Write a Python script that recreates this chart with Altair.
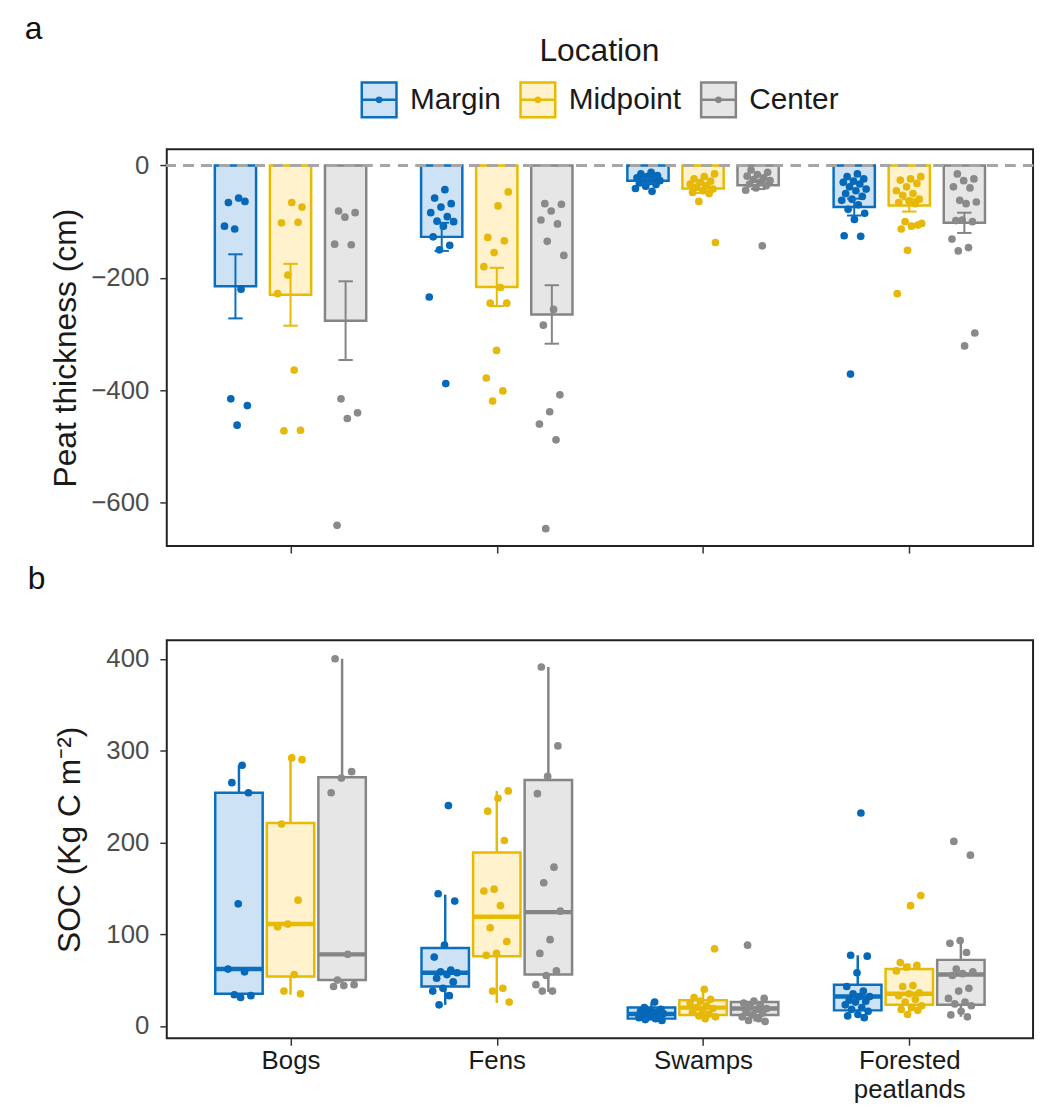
import json
import altair as alt
import pandas as pd

# ---------------- categories & styling ----------------
TYPES = ["Bogs", "Fens", "Swamps", "Forested peatlands"]
TYPE_LABELS = [["Bogs"], ["Fens"], ["Swamps"], ["Forested", "peatlands"]]
LOCATIONS = ["Margin", "Midpoint", "Center"]
DARK = ["#0B6FBE", "#E8BA00", "#858585"]
LIGHT = ["#CDE2F4", "#FFF2CC", "#E6E6E6"]
POINT = ["#0568B8", "#E6B80A", "#8A8A8A"]

# ---------------- panel a: peat thickness (cm) ----------------
THICK_BOGS_MARGIN = [-58, -66, -64, -113, -108, -220, -415, -427, -462]
THICK_BOGS_MIDPOINT = [-74, -66, -102, -101, -195, -228, -364, -472, -471]
THICK_BOGS_CENTER = [-81, -84, -92, -140, -141, -415, -440, -450, -640]
THICK_FENS_MARGIN = [-43, -58, -68, -74, -84, -91, -99, -100, -108, -127, -142, -150, -234, -388]
THICK_FENS_MIDPOINT = [-47, -72, -128, -134, -155, -180, -217, -245, -245, -329, -378, -401, -419]
THICK_FENS_CENTER = [-68, -69, -81, -97, -104, -135, -160, -256, -284, -408, -438, -460, -488, -646]
THICK_SWAMPS_MARGIN = [-12, -15, -18, -20, -22, -24, -25, -27, -29, -31, -34, -37, -41, -46]
THICK_SWAMPS_MIDPOINT = [-15, -20, -24, -28, -30, -33, -36, -39, -42, -45, -48, -50, -64, -137]
THICK_SWAMPS_CENTER = [-8, -12, -16, -19, -22, -25, -27, -30, -33, -36, -40, -44, -143]
THICK_FOREST_MARGIN = [-15, -20, -24, -28, -30, -33, -38, -42, -45, -50, -55, -60, -62, -70,
                       -78, -85, -96, -125, -126, -371]
THICK_FOREST_MIDPOINT = [-20, -24, -26, -32, -38, -45, -50, -53, -60, -63, -66, -68, -100, -103,
                         -108, -113, -106, -151, -228]
THICK_FOREST_CENTER = [-15, -24, -27, -38, -40, -62, -65, -68, -98, -100, -97, -131, -146, -152,
                       -298, -321]

# bar heights (mean) and standard errors, per type, for each location
THICK_MEAN_MARGIN = [-215, -127, -27, -74]
THICK_MEAN_MIDPOINT = [-230, -216, -41, -71]
THICK_MEAN_CENTER = [-276, -265, -35, -102]
THICK_SE_MARGIN = [57, 25, 4, 15]
THICK_SE_MIDPOINT = [55, 34, 8, 11]
THICK_SE_CENTER = [70, 52, 7, 18]

# ---------------- panel b: SOC (Kg C m-2) ----------------
SOC_BOGS_MARGIN = [284, 265, 254, 133, 62, 59, 34, 33, 31]
SOC_BOGS_MIDPOINT = [290, 292, 220, 137, 111, 108, 56, 38, 35]
SOC_BOGS_CENTER = [400, 277, 270, 254, 78, 50, 45, 44, 43]
SOC_FENS_MARGIN = [240, 144, 136, 88, 75, 61, 59, 58, 56, 52, 48, 41, 38, 33, 23]
SOC_FENS_MIDPOINT = [256, 248, 234, 202, 149, 147, 131, 107, 92, 79, 77, 41, 38, 26]
SOC_FENS_CENTER = [391, 305, 272, 253, 173, 156, 125, 94, 79, 60, 55, 45, 38, 38]
SOC_SWAMPS_MARGIN = [26, 20, 18, 17, 16, 15, 14, 13.5, 13, 12, 11, 10, 9, 8, 7, 6]
SOC_SWAMPS_MIDPOINT = [84, 40, 31, 29, 27, 25, 22, 20, 19, 17, 15, 13, 11, 10, 8]
SOC_SWAMPS_CENTER = [88, 30, 27, 25, 23, 21, 19, 18, 16, 14, 12, 10, 8, 6, 5]
SOC_FOREST_MARGIN = [232, 77, 76, 58, 43, 38, 35, 32, 32, 28, 27, 26, 23, 20, 18, 16, 12.5, 11, 9]
SOC_FOREST_MIDPOINT = [142, 131, 69, 66, 64, 60, 44, 43, 36, 35, 33, 29, 26, 22, 20, 18, 17, 12.5]
SOC_FOREST_CENTER = [201, 186, 93, 90, 80, 62, 59, 57, 55, 41, 38, 30, 26, 24, 22, 16, 12, 10]

# box statistics per type: (lower whisker, Q1, median, Q3, upper whisker)
SOC_BOX_MARGIN = [(31, 35, 62, 254, 284), (23, 43, 58, 85, 143), (6, 8, 13, 20, 26), (9, 17, 32, 45, 77)]
SOC_BOX_MIDPOINT = [(34, 54, 111, 221, 292), (25, 76, 119, 189, 256), (8, 12, 20, 28, 40), (12, 23, 35, 62, 68)]
SOC_BOX_CENTER = [(44, 50, 78, 271, 400), (37, 56, 124, 268, 391), (5, 12, 19, 26, 30), (10, 23, 56, 72, 93)]

# ---------------- build tables ----------------
TOP_DODGE = 0.267
BOT_DODGE = 0.25
BAR_HALF = 0.1
BOX_HALF = 0.115
CAP_HALF = 0.035
JIT = 0.065

thick_groups = {
    ("Bogs", "Margin"): THICK_BOGS_MARGIN, ("Bogs", "Midpoint"): THICK_BOGS_MIDPOINT,
    ("Bogs", "Center"): THICK_BOGS_CENTER, ("Fens", "Margin"): THICK_FENS_MARGIN,
    ("Fens", "Midpoint"): THICK_FENS_MIDPOINT, ("Fens", "Center"): THICK_FENS_CENTER,
    ("Swamps", "Margin"): THICK_SWAMPS_MARGIN, ("Swamps", "Midpoint"): THICK_SWAMPS_MIDPOINT,
    ("Swamps", "Center"): THICK_SWAMPS_CENTER,
    ("Forested peatlands", "Margin"): THICK_FOREST_MARGIN,
    ("Forested peatlands", "Midpoint"): THICK_FOREST_MIDPOINT,
    ("Forested peatlands", "Center"): THICK_FOREST_CENTER,
}
soc_groups = {
    ("Bogs", "Margin"): SOC_BOGS_MARGIN, ("Bogs", "Midpoint"): SOC_BOGS_MIDPOINT,
    ("Bogs", "Center"): SOC_BOGS_CENTER, ("Fens", "Margin"): SOC_FENS_MARGIN,
    ("Fens", "Midpoint"): SOC_FENS_MIDPOINT, ("Fens", "Center"): SOC_FENS_CENTER,
    ("Swamps", "Margin"): SOC_SWAMPS_MARGIN, ("Swamps", "Midpoint"): SOC_SWAMPS_MIDPOINT,
    ("Swamps", "Center"): SOC_SWAMPS_CENTER,
    ("Forested peatlands", "Margin"): SOC_FOREST_MARGIN,
    ("Forested peatlands", "Midpoint"): SOC_FOREST_MIDPOINT,
    ("Forested peatlands", "Center"): SOC_FOREST_CENTER,
}


def jitter(i, k):
    return (((i + 1) * 0.6180339887 + 0.31 * k) % 1.0 - 0.5) * 2 * JIT


def point_table(groups, dodge):
    rows = []
    for (t, loc), vals in groups.items():
        k = LOCATIONS.index(loc)
        for i, v in enumerate(vals):
            rows.append({"type": t, "loc": loc, "value": v,
                         "pos": TYPES.index(t) + dodge * (k - 1) + jitter(i, k)})
    return pd.DataFrame(rows)


thick_pts = point_table(thick_groups, TOP_DODGE)
soc_pts = point_table(soc_groups, BOT_DODGE)

means = {"Margin": THICK_MEAN_MARGIN, "Midpoint": THICK_MEAN_MIDPOINT, "Center": THICK_MEAN_CENTER}
ses = {"Margin": THICK_SE_MARGIN, "Midpoint": THICK_SE_MIDPOINT, "Center": THICK_SE_CENTER}
bar_rows, cap_rows = [], []
for k, loc in enumerate(LOCATIONS):
    for ti, t in enumerate(TYPES):
        c = ti + TOP_DODGE * (k - 1)
        m, s = means[loc][ti], ses[loc][ti]
        bar_rows.append({"type": t, "loc": loc, "mean": m, "zero": 0, "lo": m + s, "hi": m - s,
                         "pos": c, "x0": c - BAR_HALF, "x1": c + BAR_HALF})
        for end in (m + s, m - s):
            cap_rows.append({"loc": loc, "y": end, "x0": c - CAP_HALF, "x1": c + CAP_HALF})
bars = pd.DataFrame(bar_rows)
caps = pd.DataFrame(cap_rows)

boxes_src = {"Margin": SOC_BOX_MARGIN, "Midpoint": SOC_BOX_MIDPOINT, "Center": SOC_BOX_CENTER}
box_rows = []
for k, loc in enumerate(LOCATIONS):
    for ti, t in enumerate(TYPES):
        c = ti + BOT_DODGE * (k - 1)
        lw, q1, md, q3, uw = boxes_src[loc][ti]
        box_rows.append({"type": t, "loc": loc, "lw": lw, "q1": q1, "med": md, "q3": q3, "uw": uw,
                         "pos": c, "x0": c - BOX_HALF, "x1": c + BOX_HALF})
boxes = pd.DataFrame(box_rows)

# ---------------- scales / legend ----------------
GLYPH = ("M-1,-1H1V1H-1Z M-1,0H1 "
         "M-0.12,0a0.12,0.12 0 1,0 0.24,0a0.12,0.12 0 1,0 -0.24,0")
LEG = alt.Legend(title="Location", orient="none", legendX=195, legendY=-114,
                 direction="horizontal", titleOrient="top", titleAnchor="middle",
                 symbolType=GLYPH, symbolSize=1225, symbolStrokeWidth=2.5,
                 labelFontSize=30, titleFontSize=32, titleFontWeight="normal",
                 labelOffset=12, columnPadding=14, titlePadding=13,
                 labelColor="#1A1A1A", titleColor="#1A1A1A")
fill_enc = alt.Fill("loc:N", scale=alt.Scale(domain=LOCATIONS, range=LIGHT), legend=LEG)
stroke_enc = alt.Stroke("loc:N", scale=alt.Scale(domain=LOCATIONS, range=DARK), legend=LEG)
color_enc = alt.Color("loc:N", scale=alt.Scale(domain=LOCATIONS, range=POINT), legend=None)

XSCALE = alt.Scale(domain=[-0.6, 3.6], nice=False, zero=False)
label_expr = json.dumps(TYPE_LABELS) + "[datum.value]"

x_top = alt.X("x0:Q", scale=XSCALE, title=None,
              axis=alt.Axis(values=[0, 1, 2, 3], labels=False, grid=False))
x_bot = alt.X("x0:Q", scale=XSCALE, title=None,
              axis=alt.Axis(values=[0, 1, 2, 3], labelExpr=label_expr, grid=False,
                            labelColor="#1A1A1A", labelFontSize=26, labelLineHeight=29.5,
                            labelOverlap=False, labelFlush=False, labelPadding=2))

YT = alt.Scale(domain=[-677, 29], nice=False, zero=False)
YB = alt.Scale(domain=[-13.4, 420], nice=False, zero=False)
yaxis_t = alt.Axis(values=[0, -200, -400, -600], grid=False, title="Peat thickness (cm)",
                   titlePadding=8)
yaxis_b = alt.Axis(values=[0, 100, 200, 300, 400], grid=False, title="SOC (Kg C m\u207b\u00b2)",
                   titlePadding=20)

# ---------------- panel a ----------------
bar_layer = alt.Chart(bars).mark_rect(strokeWidth=2.5).encode(
    x=x_top, x2="x1:Q",
    y=alt.Y("mean:Q", scale=YT, axis=yaxis_t), y2="zero:Q",
    fill=fill_enc, stroke=stroke_enc)
pt_top = alt.Chart(thick_pts).mark_circle(size=60, opacity=1).encode(
    x=alt.X("pos:Q", scale=XSCALE), y=alt.Y("value:Q", scale=YT), color=color_enc)
err_v = alt.Chart(bars).mark_rule(strokeWidth=2).encode(
    x=alt.X("pos:Q", scale=XSCALE), y=alt.Y("lo:Q", scale=YT), y2="hi:Q", stroke=stroke_enc)
err_c = alt.Chart(caps).mark_rule(strokeWidth=2).encode(
    x=alt.X("x0:Q", scale=XSCALE), x2="x1:Q", y=alt.Y("y:Q", scale=YT), stroke=stroke_enc)
zero_line = alt.Chart(bars).mark_rule(color="#A6A6A6", strokeWidth=2, strokeDash=[10, 8]).encode(
    y=alt.datum(0))

top = alt.layer(bar_layer, pt_top, err_v, err_c, zero_line).properties(
    width=873, height=400,
    title=alt.TitleParams("a", anchor="start", frame="group", dx=-143, offset=104,
                          fontSize=32, fontWeight="normal", color="#111"))

# ---------------- panel b ----------------
box_layer = alt.Chart(boxes).mark_rect(strokeWidth=2.5).encode(
    x=x_bot, x2="x1:Q",
    y=alt.Y("q1:Q", scale=YB, axis=yaxis_b), y2="q3:Q",
    fill=fill_enc, stroke=stroke_enc)
wh_lo = alt.Chart(boxes).mark_rule(strokeWidth=2.5).encode(
    x=alt.X("pos:Q", scale=XSCALE), y=alt.Y("lw:Q", scale=YB), y2="q1:Q", stroke=stroke_enc)
wh_hi = alt.Chart(boxes).mark_rule(strokeWidth=2.5).encode(
    x=alt.X("pos:Q", scale=XSCALE), y=alt.Y("q3:Q", scale=YB), y2="uw:Q", stroke=stroke_enc)
med = alt.Chart(boxes).mark_rule(strokeWidth=4.5).encode(
    x=alt.X("x0:Q", scale=XSCALE), x2="x1:Q", y=alt.Y("med:Q", scale=YB), stroke=stroke_enc)
pt_bot = alt.Chart(soc_pts).mark_circle(size=60, opacity=1).encode(
    x=alt.X("pos:Q", scale=XSCALE), y=alt.Y("value:Q", scale=YB), color=color_enc)

bottom = alt.layer(box_layer, wh_lo, wh_hi, med, pt_bot).properties(
    width=873, height=401,
    title=alt.TitleParams("b", anchor="start", frame="group", dx=-140, offset=45,
                          fontSize=32, fontWeight="normal", color="#111"))

chart = alt.vconcat(top, bottom, spacing=7).resolve_scale(
    fill="shared", stroke="shared", color="shared"
).properties(
    padding={"left": 16, "top": 0, "right": 5, "bottom": 0}
).configure(font="Liberation Sans").configure_view(
    stroke="#222222", strokeWidth=2
).configure_axis(
    domain=False, tickColor="#333333", tickWidth=1.5, tickSize=7,
    labelFont="Liberation Sans", labelFontSize=26, labelColor="#4D4D4D", labelPadding=11,
    titleFont="Liberation Sans", titleFontSize=32, titleFontWeight="normal",
    titleColor="#1A1A1A"
).configure_legend(labelFont="Liberation Sans", titleFont="Liberation Sans")

chart.save("out.html", embed_options={"renderer": "svg", "actions": False})
